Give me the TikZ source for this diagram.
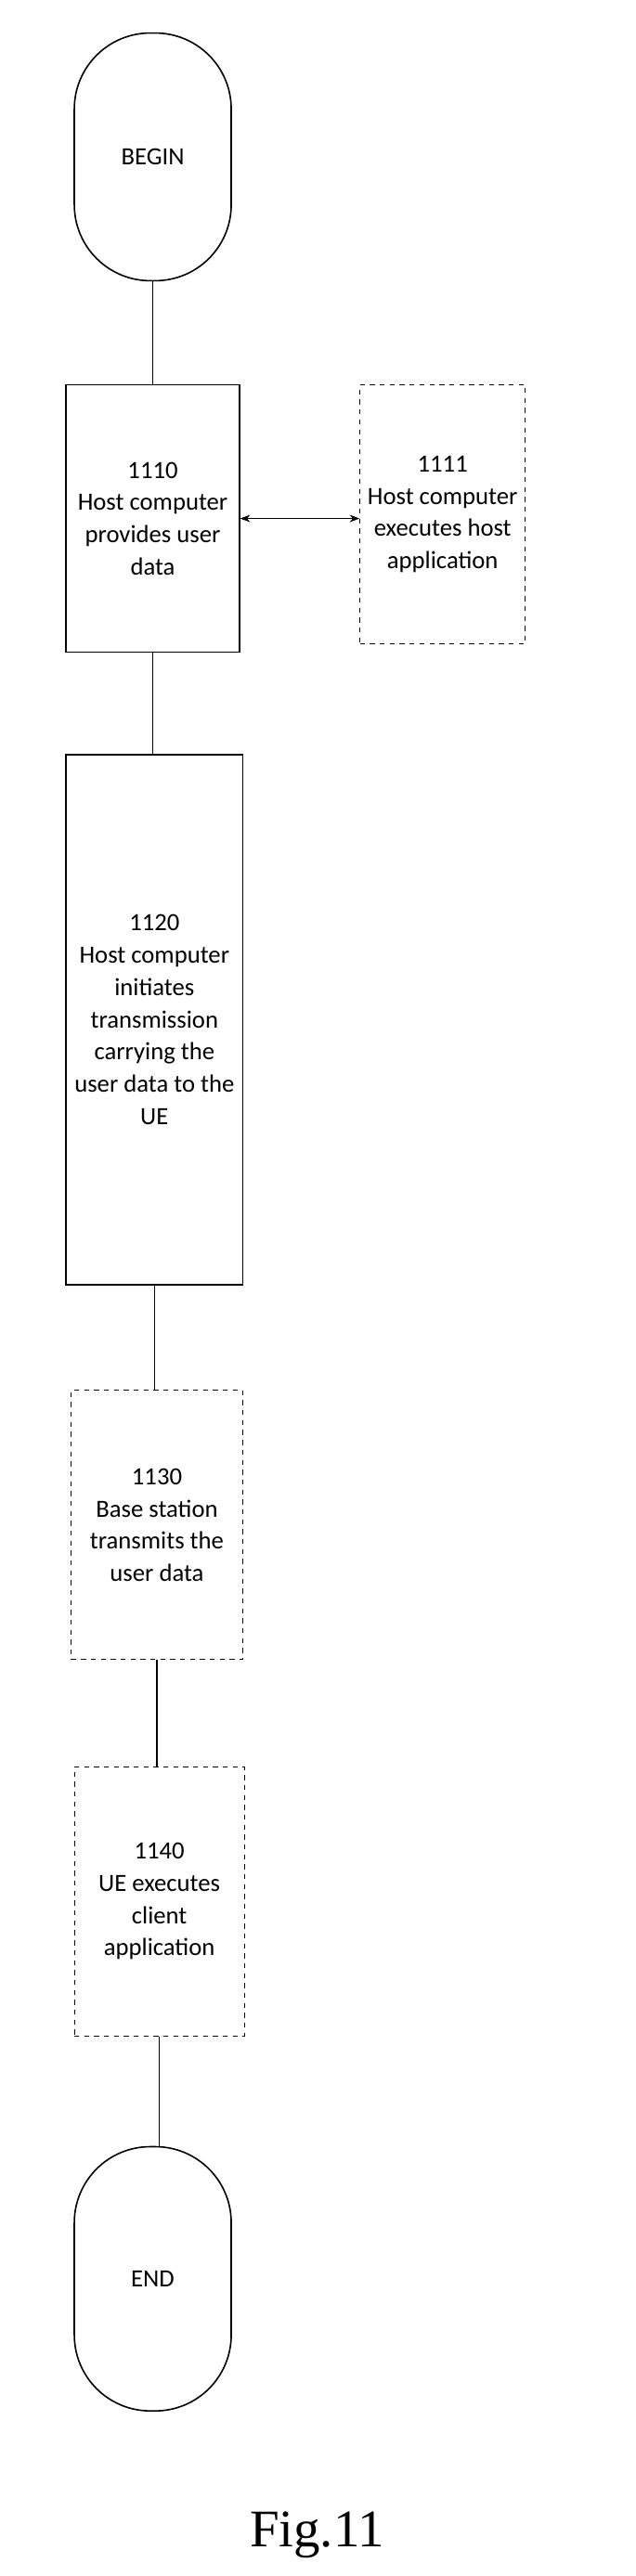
\documentclass[tikz,border=0pt]{standalone}
\usepackage{fontspec}
\setmainfont{Carlito}
\newfontfamily\figfont{Liberation Serif}
\usetikzlibrary{arrows.meta}
\begin{document}
\begin{tikzpicture}[x=1pt,y=-1pt,
  term/.style={draw,line width=0.9pt,rounded corners=46pt,font=\fontsize{15}{19}\selectfont},
  solidbox/.style={draw,line width=0.9pt,font=\fontsize{15}{19.5}\selectfont,align=center,inner sep=0pt},
  dashbox/.style={draw,dashed,line width=0.6pt,font=\fontsize{15}{19.5}\selectfont,align=center,inner sep=0pt},
  conn/.style={line width=0.9pt}]
\useasboundingbox (0,0) rectangle (385,1560);
\node[term,minimum width=95pt,minimum height=150pt] (begin) at (92.5,95) {BEGIN};
\node[solidbox,minimum width=105pt,minimum height=162pt] (b1110) at (92.5,314) {1110\\Host computer\\provides user\\data};
\node[dashbox,minimum width=100pt,minimum height=157pt] (b1111) at (268,311.5) {1111\\Host computer\\executes host\\application};
\node[solidbox,minimum width=107pt,minimum height=321pt] (b1120) at (93.5,617.5) {1120\\Host computer\\initiates\\transmission\\carrying the\\user data to the\\UE};
\node[dashbox,minimum width=104pt,minimum height=163pt] (b1130) at (95,923.5) {1130\\Base station\\transmits the\\user data};
\node[dashbox,minimum width=103pt,minimum height=163pt] (b1140) at (96.5,1151.5) {1140\\UE executes\\client\\application};
\node[term,minimum width=95pt,minimum height=160pt] (end) at (92.5,1380) {END};
\node[font=\figfont\fontsize{32}{36}\selectfont] (fig) at (192,1535) {Fig.11};
\draw[conn] (begin.south) -- (b1110.north -| begin.south);
\draw[conn,{Stealth[length=6pt]}-{Stealth[length=6pt]},line width=0.6pt] (b1110.east) -- (b1111.west |- b1110.east);
\draw[conn] (b1110.south) -- (b1120.north -| b1110.south);
\draw[conn] (b1120.south) -- (b1130.north -| b1120.south);
\draw[conn] (b1130.south) -- (b1140.north -| b1130.south);
\draw[conn] (b1140.south) -- (end.north -| b1140.south);
\end{tikzpicture}
\end{document}
